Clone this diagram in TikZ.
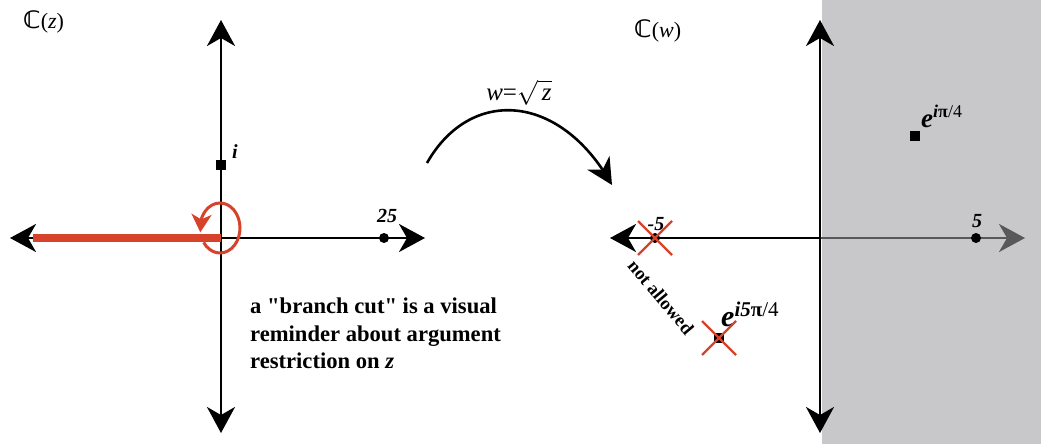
\documentclass[tikz,border=0pt]{standalone}
\usepackage{fontspec}
\usepackage{amssymb}
\setmainfont{Liberation Serif}
\newfontfamily\dejasans{DejaVu Sans}
\usetikzlibrary{arrows.meta,calc,bending}
\definecolor{cutred}{RGB}{214,66,42}
\definecolor{planegray}{RGB}{200,200,202}
\definecolor{axgray}{RGB}{88,88,90}
\begin{document}
\begin{tikzpicture}[x=1pt,y=-1pt,
  axisline/.style={line width=2.6pt},
  tipend/.style={-{Stealth[length=26pt,width=28pt,inset=8pt]}},
  tipstart/.style={{Stealth[length=26pt,width=28pt,inset=8pt]}-},
  tipboth/.style={{Stealth[length=26pt,width=28pt,inset=8pt]}-{Stealth[length=26pt,width=28pt,inset=8pt]}},
  dotpt/.style={circle,fill=black,inner sep=0pt,minimum size=10pt},
  sqpt/.style={rectangle,fill=black,inner sep=0pt,minimum size=9.5pt},
  numlab/.style={font=\fontsize{20}{24}\selectfont\bfseries\itshape,inner sep=0pt},
  planelab/.style={font=\fontsize{22}{26}\selectfont,inner sep=0pt},
  explab/.style={font=\fontsize{27}{30}\selectfont\bfseries\itshape,inner sep=0pt},
  xmark/.style={draw=cutred,line width=2.4pt},
  bigtext/.style={font=\fontsize{22.6}{27.5}\selectfont\bfseries,align=left,inner sep=0pt}
]
\useasboundingbox (0,0) rectangle (1041,444);
% shaded half-plane
\fill[planegray] (822,0) rectangle (1041,444);

% ---------- z-plane ----------
\coordinate (zL) at (10,238);
\coordinate (zR) at (425,238);
\coordinate (zT) at (221,20);
\coordinate (zB) at (221,433);
\coordinate (zO) at (221,238);
\coordinate (cutL) at (33,238);
\coordinate (loopC) at (220,228);
\draw[axisline,tipboth] (zL) -- (zR);
\draw[axisline,tipboth] (zB) -- (zT);
\draw[cutred,line width=8pt] (cutL) -- (zO);
\draw[cutred,line width=3pt,-{Stealth[length=18pt,width=20pt,inset=5pt,flex]}]
  (loopC) ++(-215:20 and 25) arc[start angle=-215,end angle=-550,x radius=20,y radius=25];
\node[sqpt] (pi) at (221,165) {};
\node[numlab,anchor=base west] (li) at (232,158) {i};
\node[dotpt] (p25) at (384,238) {};
\node[numlab,anchor=base] (l25) at (387,222) {25};
\node[planelab,anchor=west] (cz) at (23,22) {{\dejasans\bfseries\fontsize{24}{26}\selectfont ℂ}(\textit{z})};
\node[bigtext,anchor=north west] (note) at (250,298)
  {a \textquotedbl branch cut\textquotedbl{} is a visual\\reminder about argument\\restriction on \textit{z}};

% ---------- mapping arrow ----------
\coordinate (mapS) at (427,163);
\coordinate (mapE) at (612,185);
\draw[line width=2.6pt,-{Stealth[length=26pt,width=26pt,inset=8pt]}]
  (mapS) .. controls (470,87) and (560,92) .. (mapE);
\node[font=\fontsize{25}{26}\selectfont,anchor=base] (maplab) at (519,100)
  {\textit{w}=$\sqrt{\,\textit{z}}$};

% ---------- w-plane ----------
\coordinate (wL) at (610,238);
\coordinate (wO) at (820,238);
\coordinate (wR) at (1025,238);
\coordinate (wT) at (820,20);
\coordinate (wB) at (820,433);
\draw[axisline,tipstart] (wL) -- (wO);
\draw[axisline,axgray,tipend] (wO) -- (wR);
\draw[axisline,tipboth] (wB) -- (wT);
\node[planelab,anchor=west] (cw) at (634,31) {{\dejasans\bfseries\fontsize{24}{26}\selectfont ℂ}(\textit{w})};

\node[dotpt] (pm5) at (655,238) {};
\node[numlab,anchor=base] (lm5) at (656,230) {-5};
\draw[xmark] ($(pm5)+(-17,-17)$) -- ($(pm5)+(17,17)$);
\draw[xmark] ($(pm5)+(17,-17)$) -- ($(pm5)+(-17,17)$);

\node[dotpt] (p5) at (976,238) {};
\node[numlab,anchor=base] (l5) at (977,227) {5};

\node[sqpt] (pq) at (915,136) {};
\node[explab,anchor=base west] (lq) at (921,127)
  {e\textsuperscript{\fontsize{18}{18}\selectfont i\textup{π}\mdseries\upshape/4}};

\node[sqpt] (pq5) at (719,338) {};
\node[explab,anchor=base west,font=\fontsize{30}{30}\selectfont\bfseries\itshape] (lq5) at (721,326)
  {e\textsuperscript{\fontsize{21}{21}\selectfont i5\textup{π}\mdseries\upshape/4}};
\draw[xmark] ($(pq5)+(-17,-17)$) -- ($(pq5)+(17,17)$);
\draw[xmark] ($(pq5)+(17,-17)$) -- ($(pq5)+(-17,17)$);

\node[font=\fontsize{18.5}{20}\selectfont\bfseries,rotate=-50,inner sep=0pt] (na) at (661,297) {not allowed};
\end{tikzpicture}
\end{document}
